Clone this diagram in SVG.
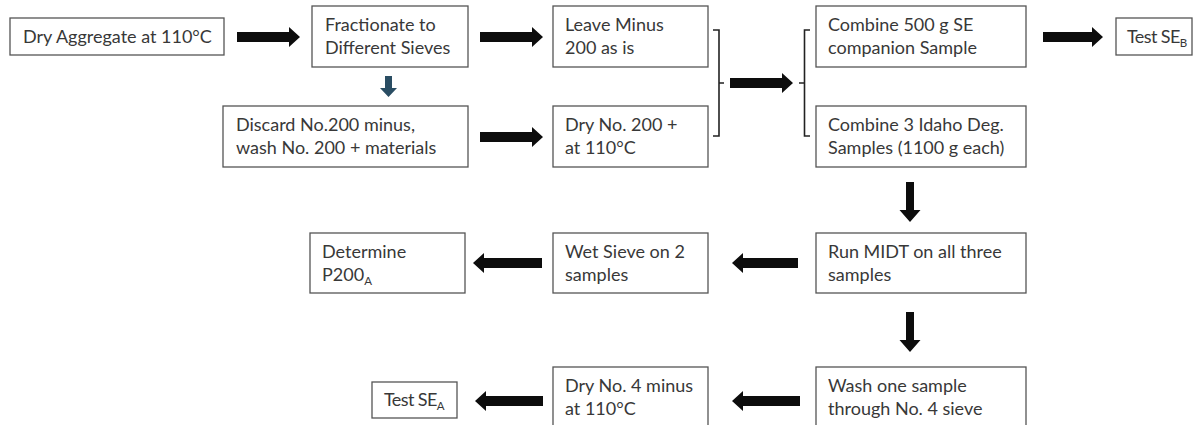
<svg xmlns="http://www.w3.org/2000/svg" width="1198" height="425" viewBox="0 0 1198 425">
<defs>
<style>
.box{fill:#ffffff;stroke:#555555;stroke-width:1.3}
.t{font-family:Lato,"Liberation Sans",sans-serif;font-size:18px;fill:#383838}
.tt{letter-spacing:-0.6px}
.sub{font-size:11.5px}
.arr{fill:#0d0d0d}
.blue{fill:#2a4d63}
.br{fill:none;stroke:#222222;stroke-width:1.6}
</style>
</defs>
<rect width="1198" height="425" fill="#ffffff"/>
<g id="connectors">
<path class="arr" d="M237,32 H289 V27 L300,37 L289,47 V42 H237 Z"/>
<path class="arr" d="M480,32 H532 V27 L543,37 L532,47 V42 H480 Z"/>
<path class="arr" d="M480,132 H532 V127 L543,137 L532,147 V142 H480 Z"/>
<path class="arr" d="M730,78 H782 V73 L793,83 L782,93 V88 H730 Z"/>
<path class="arr" d="M1043,32 H1092 V27 L1103,37 L1092,47 V42 H1043 Z"/>
<path class="arr" d="M798,258 H743 V253 L732,263 L743,273 V268 H798 Z"/>
<path class="arr" d="M542,258 H484 V253 L473,263 L484,273 V268 H542 Z"/>
<path class="arr" d="M800,396 H743 V391 L732,401 L743,411 V406 H800 Z"/>
<path class="arr" d="M543,396 H486 V391 L475,401 L486,411 V406 H543 Z"/>
<path class="blue" d="M385,76 H392 V88 H397 L388.5,97 L380,88 H385 Z"/>
<path class="arr" d="M906,182 H914 V210 H920.5 L910,222 L899.5,210 H906 Z"/>
<path class="arr" d="M906,312 H914 V340 H920.5 L910,352 L899.5,340 H906 Z"/>
<path class="br" d="M713,30 H719 V136 H713 M719,83 H724"/>
<path class="br" d="M810,30 H804.5 V136 H810 M804.5,83 H799"/>
</g>
<g id="n1"><rect class="box" x="10" y="18" width="214" height="37"/><text class="t" x="23" y="43">Dry Aggregate at 110°C</text></g>
<g id="n2"><rect class="box" x="312" y="6" width="156" height="61"/><text class="t" x="325" y="31">Fractionate to</text><text class="t" x="325" y="54">Different Sieves</text></g>
<g id="n3"><rect class="box" x="223" y="106" width="245" height="61"/><text class="t" x="236" y="131">Discard No.200 minus,</text><text class="t" x="236" y="154">wash No. 200 + materials</text></g>
<g id="n4"><rect class="box" x="553" y="6" width="155" height="61"/><text class="t" x="565" y="31">Leave Minus</text><text class="t" x="565" y="54">200 as is</text></g>
<g id="n5"><rect class="box" x="553" y="106" width="155" height="61"/><text class="t" x="565" y="131">Dry No. 200 +</text><text class="t" x="565" y="154">at 110°C</text></g>
<g id="n6"><rect class="box" x="816" y="6" width="210" height="61"/><text class="t" x="828" y="31">Combine 500 g SE</text><text class="t" x="828" y="54">companion Sample</text></g>
<g id="n7"><rect class="box" x="1116" y="18" width="76" height="37"/><text class="t tt" x="1127" y="43">Test SE<tspan class="sub" dy="4">B</tspan></text></g>
<g id="n8"><rect class="box" x="816" y="106" width="210" height="61"/><text class="t" x="828" y="131">Combine 3 Idaho Deg.</text><text class="t" x="828" y="154">Samples (1100 g each)</text></g>
<g id="n9"><rect class="box" x="816" y="233" width="210" height="60"/><text class="t" x="828" y="258">Run MIDT on all three</text><text class="t" x="828" y="281">samples</text></g>
<g id="n10"><rect class="box" x="553" y="233" width="155" height="60"/><text class="t" x="565" y="258">Wet Sieve on 2</text><text class="t" x="565" y="281">samples</text></g>
<g id="n11"><rect class="box" x="310" y="233" width="155" height="60"/><text class="t" x="322" y="258">Determine</text><text class="t" x="322" y="281">P200<tspan class="sub" dy="4">A</tspan></text></g>
<g id="n12"><rect class="box" x="816" y="367" width="210" height="64"/><text class="t" x="828" y="392">Wash one sample</text><text class="t" x="828" y="415">through No. 4 sieve</text></g>
<g id="n13"><rect class="box" x="553" y="367" width="155" height="64"/><text class="t" x="565" y="392">Dry No. 4 minus</text><text class="t" x="565" y="415">at 110°C</text></g>
<g id="n14"><rect class="box" x="372" y="382" width="85" height="36"/><text class="t tt" x="384" y="406">Test SE<tspan class="sub" dy="4">A</tspan></text></g>
</svg>
